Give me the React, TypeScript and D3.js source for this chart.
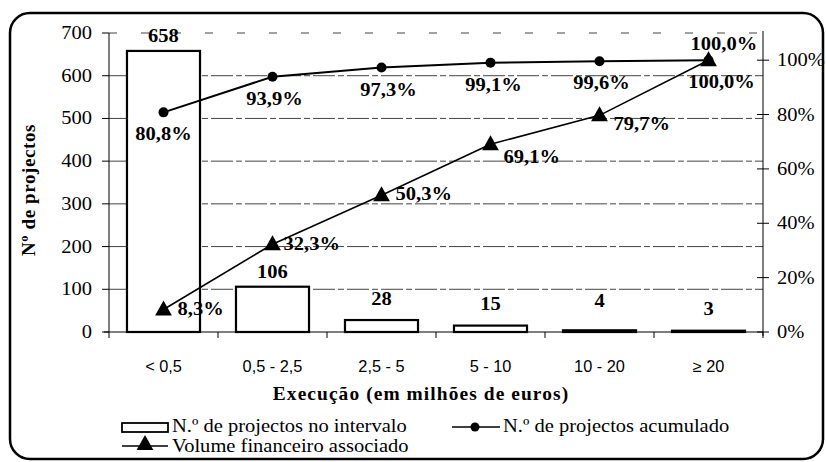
import React from "react";
import * as d3 from "d3";

const categories = ["< 0,5", "0,5 - 2,5", "2,5 - 5", "5 - 10", "10 - 20", "≥ 20"];
const projectCounts = [658, 106, 28, 15, 4, 3];
const cumulativePct = [80.8, 93.9, 97.3, 99.1, 99.6, 100.0];
const volumePct = [8.3, 32.3, 50.3, 69.1, 79.7, 100.0];
const leftTicks = [0, 100, 200, 300, 400, 500, 600, 700];
const rightTicks = [0, 20, 40, 60, 80, 100];

// label placement offsets (style, not data)
const barLabelDy = [-9, -9, -15, -16, -23, -16];
const cumLabelDx = [0, 2, 7, 3, 2, 13];
const volLabelOffset: [number, number][] = [[14, 6], [11, 6], [14, 5], [13, 19], [14, 15], [-18, -10]];

const SERIF = "'Liberation Serif', 'Times New Roman', serif";
const SANS = "'Liberation Sans', Arial, sans-serif";
const SX = 1.08;

function T(props: {
  x: number; y: number; children: React.ReactNode; anchor?: string; size?: number;
  bold?: boolean; family?: string; ls?: number; sx?: number; rotate?: number;
}) {
  const { x, y, children, anchor = "middle", size = 19, bold = false, family = SERIF, ls = 0, sx = SX, rotate = 0 } = props;
  return (
    <text
      transform={`translate(${x},${y}) rotate(${rotate}) scale(${sx},1)`}
      textAnchor={anchor as any}
      fontFamily={family}
      fontSize={size}
      fontWeight={bold ? "bold" : "normal"}
      letterSpacing={ls}
      fill="#000"
    >
      {children}
    </text>
  );
}

const pct = (v: number) => d3.format(".1f")(v).replace(".", ",") + "%";

export default function App() {
  const W = 826, H = 462;
  const left = 109, right = 763, top = 33, bottom = 332;
  const x = d3.scaleBand<string>().domain(categories).range([left, right]).padding(0);
  const yL = d3.scaleLinear().domain([0, 700]).range([bottom, top]);
  const yR = d3.scaleLinear().domain([0, 110]).range([bottom, top]);
  const bw = x.bandwidth() * 0.67;
  const cx = (c: string) => (x(c) as number) + x.bandwidth() / 2;

  const line = d3.line<number>().x((_, i) => cx(categories[i])).y((d) => yR(d));
  const tri = (s: number) => `M0,${-s * 0.75}L${s * 0.7},${s * 0.5}L${-s * 0.7},${s * 0.5}Z`;

  const boundaries = categories.map((c) => x(c) as number).concat([right]);

  return (
    <svg width={W} height={H} style={{ position: "absolute", left: 0, top: 0, background: "#fff" }}>
      <rect x={0} y={0} width={W} height={H} fill="#fff" />
      {/* outer rounded border */}
      <rect x={10} y={13} width={813} height={446} rx={20} ry={20} fill="none" stroke="#000" strokeWidth={2.5} />

      {/* gridlines */}
      {leftTicks.filter((t) => t > 0).map((t) => (
        <line key={t} x1={left} x2={right} y1={yL(t)} y2={yL(t)} stroke="#444" strokeWidth={1}
          strokeDasharray={t === 700 ? "8,24" : "22,3,6,3"} />
      ))}

      {/* bars */}
      {projectCounts.map((v, i) => (
        <rect key={i} x={cx(categories[i]) - bw / 2} y={yL(v)} width={bw} height={bottom - yL(v)}
          fill="#fff" stroke="#000" strokeWidth={2.2} />
      ))}

      {/* left axis */}
      <line x1={left} x2={left} y1={top} y2={bottom} stroke="#000" strokeWidth={1} />
      {leftTicks.map((t) => (
        <g key={t}>
          <line x1={left - 7} x2={left} y1={yL(t)} y2={yL(t)} stroke="#000" />
          <T x={92} y={yL(t) + 6} anchor="end">{t}</T>
        </g>
      ))}

      {/* right axis */}
      <line x1={right} x2={right} y1={top - 2} y2={bottom + 4} stroke="#000" strokeWidth={1} />
      {rightTicks.map((t) => (
        <g key={t}>
          <line x1={right - 6} x2={right + 6} y1={yR(t)} y2={yR(t)} stroke="#000" />
          <T x={777} y={yR(t) + 6} anchor="start">{t}%</T>
        </g>
      ))}

      {/* bottom axis */}
      <line x1={left - 5} x2={right} y1={bottom} y2={bottom} stroke="#000" strokeWidth={1.2} />
      {boundaries.map((b, i) => (
        <line key={i} x1={b} x2={b} y1={bottom} y2={bottom + 6} stroke="#000" />
      ))}
      {categories.map((c) => (
        <T key={c} x={cx(c)} y={372} family={SANS} size={16} sx={1.02}>{c}</T>
      ))}

      {/* axis titles */}
      <T x={421} y={400} bold size={18} ls={1}>Execução (em milhões de euros)</T>
      <T x={35} y={190} bold size={19} ls={0.6} rotate={-90} sx={1}>Nº de projectos</T>

      {/* bar labels */}
      {projectCounts.map((v, i) => (
        <T key={i} x={cx(categories[i])} y={yL(v) + barLabelDy[i]} bold>{v}</T>
      ))}

      {/* volume line (triangles) */}
      <path d={line(volumePct) || ""} fill="none" stroke="#000" strokeWidth={1.6} />
      {volumePct.map((v, i) => (
        <path key={i} d={tri(12)} transform={`translate(${cx(categories[i])},${yR(v)})`} fill="#000" />
      ))}

      {/* cumulative line (circles) */}
      <path d={line(cumulativePct) || ""} fill="none" stroke="#000" strokeWidth={2} />
      {cumulativePct.map((v, i) => (
        <circle key={i} cx={cx(categories[i])} cy={yR(v)} r={5} fill="#000" />
      ))}

      {/* line labels */}
      {cumulativePct.map((v, i) => (
        <T key={i} x={cx(categories[i]) + cumLabelDx[i]} y={yR(v) + 28} bold>{pct(v)}</T>
      ))}
      {volumePct.map((v, i) => (
        <T key={i} x={cx(categories[i]) + volLabelOffset[i][0]} y={yR(v) + volLabelOffset[i][1]} bold anchor="start">{pct(v)}</T>
      ))}

      {/* legend */}
      <rect x={122} y={423} width={46} height={9} fill="#fff" stroke="#000" strokeWidth={1.8} />
      <T x={172} y={432} anchor="start">N.º de projectos no intervalo</T>
      <line x1={122} x2={168} y1={446} y2={446} stroke="#000" strokeWidth={1.6} />
      <path d={tri(12)} transform="translate(145,444)" fill="#000" />
      <T x={172} y={452} anchor="start">Volume financeiro associado</T>
      <line x1={452} x2={500} y1={427} y2={427} stroke="#000" strokeWidth={1.6} />
      <circle cx={475} cy={427} r={4.5} fill="#000" />
      <T x={503} y={432} anchor="start">N.º de projectos acumulado</T>
    </svg>
  );
}
